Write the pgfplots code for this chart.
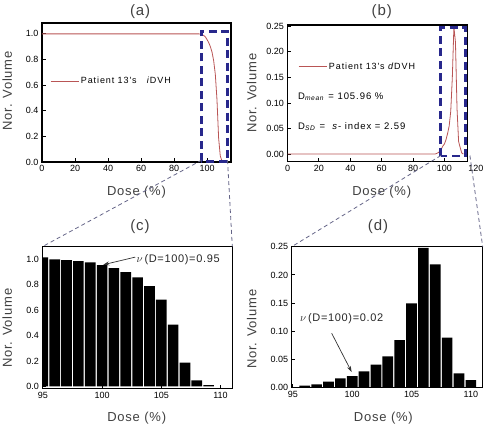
\documentclass[border=0pt]{standalone}
\usepackage{pgfplots}
\pgfplotsset{compat=1.18}
\usepackage{fontspec}
\setmainfont{Liberation Sans}
\newfontfamily\lsfont[LetterSpace=6]{Liberation Sans}
\newfontfamily\lsfontb[LetterSpace=10]{Liberation Sans}
\usetikzlibrary{arrows.meta}
\definecolor{curvered}{RGB}{185,85,85}
\definecolor{boxblue}{RGB}{40,40,140}
\definecolor{conngray}{RGB}{100,100,135}

\pgfplotsset{
  panel/.style={
    scale only axis, anchor=south west,
    tick align=inside, tick pos=left,
    major tick length=3.5pt,
    axis line style={line width=1.1pt},
    every tick/.style={black, line width=0.9pt},
    tick label style={font=\fontsize{9}{10}\selectfont},
    /pgf/number format/assume math mode=true,
    every axis title shift=0pt,
    label style={font=\lsfont\fontsize{13}{14}\selectfont, color=black!75},
    title style={font=\lsfont\fontsize{15}{16}\selectfont, color=black!75},
    xlabel={Dose (\%)}, ylabel={Nor. Volume},
    legend image code/.code={\draw[curvered, line width=0.8pt] (0pt,0pt) -- (28pt,0pt);},
  },
}

\begin{document}
\begin{tikzpicture}
\path[use as bounding box] (0pt,0pt) rectangle (495pt,429pt);

% ---------------- (a) ----------------
\begin{axis}[panel, at={(42pt,267pt)}, width=189pt, height=139pt,
  xmin=0, xmax=114.5, ymin=0, ymax=1.085,
  xtick={0,20,40,60,80,100}, ytick={0,0.2,0.4,0.6,0.8,1.0},
  yticklabel style={/pgf/number format/.cd, fixed, fixed zerofill, precision=1},
  clip=false,
  title={(a)}, title style={at={(axis description cs:0.519,1.079)}, anchor=center},
  xlabel style={at={(axis description cs:0.5,-0.216)}, anchor=center},
  ylabel style={at={(axis description cs:-0.184,0.512)}, anchor=center},
  legend style={at={(axis description cs:0.042,0.583)}, anchor=west, draw=none, fill=none,
    inner sep=0pt, font=\lsfontb\fontsize{9}{10}\selectfont},
]
\addplot[curvered, line width=0.8pt] coordinates {
 (0,1.0) (95,1.0) (96,0.999) (97,0.995) (98,0.987) (99,0.976) (100,0.955)
 (101,0.932) (102,0.9) (103,0.858) (104,0.79) (105,0.684) (106,0.487)
 (107,0.187) (108,0.047) (109,0.01) (110,0)};
\addlegendentry{Patient 13's\ \ \ \textit{i}DVH}
\draw[boxblue, line width=2.5pt, dash pattern=on 8pt off 4.5pt]
  (axis cs:96.6,0.005) rectangle (axis cs:112.5,1.02);
\coordinate (abl) at (axis cs:96.8,0.015);
\coordinate (abr) at (axis cs:112.4,0.015);
\end{axis}

% ---------------- (b) ----------------
\begin{axis}[panel, at={(287.5pt,267.3pt)}, width=180.2pt, height=136.7pt,
  xmin=0, xmax=114.8, ymin=-0.014, ymax=0.252,
  xtick={0,20,40,60,80,100}, ytick={0,0.05,0.1,0.15,0.2,0.25},
  yticklabel style={/pgf/number format/.cd, fixed, fixed zerofill, precision=2},
  clip=false,
  title={(b)}, title style={at={(axis description cs:0.523,1.095)}, anchor=center},
  xlabel style={at={(axis description cs:0.523,-0.219)}, anchor=center},
  ylabel style={at={(axis description cs:-0.199,0.5)}, anchor=center},
  legend style={at={(axis description cs:0.058,0.695)}, anchor=west, draw=none, fill=none,
    inner sep=0pt, font=\lsfontb\fontsize{9}{10}\selectfont},
]
\addplot[curvered, line width=0.8pt] coordinates {
 (0,0.001) (94,0.001) (95,0.002) (96,0.0035) (97,0.006) (98,0.0106) (99,0.0165)
 (100,0.0207) (101,0.029) (102,0.041) (103,0.0556) (104,0.0845) (105,0.1495)
 (106,0.248) (107,0.2187) (108,0.089) (109,0.0254) (110,0.0136) (111,0.003) (112,0.001)};
\addlegendentry{Patient 13's\ \textit{d}DVH}
\draw[boxblue, line width=2.5pt, dash pattern=on 8pt off 4.5pt]
  (axis cs:97.5,-0.003) rectangle (axis cs:113.3,0.247);
\coordinate (bbl) at (axis cs:97.7,-0.002);
\coordinate (bbr) at (axis cs:116.2,-0.002);
\node[font=\lsfontb\fontsize{9.5}{10}\selectfont, anchor=west, inner sep=0pt] at (axis description cs:0.058,0.475)
  {D\textsubscript{\textit{mean}} = 105.96 \%};
\node[font=\lsfontb\fontsize{9.5}{10}\selectfont, anchor=west, inner sep=0pt] at (axis description cs:0.058,0.256)
  {D\textsubscript{\textit{SD}} = \ \textit{s}- index = 2.59};
\node[font=\fontsize{9}{10}\selectfont, anchor=north] at (axis cs:120,-0.014) {120};
\end{axis}

% ---------------- (c) ----------------
\begin{axis}[panel, at={(42.3pt,40.7pt)}, width=190pt, height=141.6pt,
  xmin=94.95, xmax=111, ymin=-0.015, ymax=1.1,
  xtick={95,100,105,110}, ytick={0,0.2,0.4,0.6,0.8,1.0},
  yticklabel style={/pgf/number format/.cd, fixed, fixed zerofill, precision=1},
  title={(c)}, title style={at={(axis description cs:0.514,1.141)}, anchor=center},
  xlabel style={at={(axis description cs:0.497,-0.212)}, anchor=center},
  ylabel style={at={(axis description cs:-0.184,0.424)}, anchor=center},
]
\addplot[ybar, bar width=0.9, fill=black, draw=none] coordinates {
 (95,1.016) (96,1.0) (97,0.995) (98,0.987) (99,0.976) (100,0.955) (101,0.932)
 (102,0.9) (103,0.858) (104,0.79) (105,0.684) (106,0.487) (107,0.187)
 (108,0.047) (109,0.01)};
\draw[-{Stealth[length=6pt,width=4pt]}, black!80, line width=0.7pt]
  (axis cs:102.8,1.018) -- (axis cs:100.1,0.958);
\node[font=\lsfont\fontsize{11}{12}\selectfont, anchor=west, inner sep=0pt, color=black!85]
  at (axis cs:102.9,0.995) {$\nu$\,(D=100)=0.95};
\coordinate (ctl) at (rel axis cs:0,1);
\coordinate (ctr) at (rel axis cs:1,1);
\end{axis}

% ---------------- (d) ----------------
\begin{axis}[panel, at={(291.7pt,41.3pt)}, width=191pt, height=141pt,
  xmin=94.9, xmax=111, ymin=0, ymax=0.25,
  xtick={95,100,105,110}, ytick={0,0.05,0.1,0.15,0.2,0.25},
  yticklabel style={/pgf/number format/.cd, fixed, fixed zerofill, precision=2},
  title={(d)}, title style={at={(axis description cs:0.452,1.142)}, anchor=center},
  xlabel style={at={(axis description cs:0.48,-0.217)}, anchor=center},
  ylabel style={at={(axis description cs:-0.209,0.415)}, anchor=center},
]
\addplot[ybar, bar width=0.9, fill=black, draw=none] coordinates {
 (96,0.0035) (97,0.006) (98,0.0106) (99,0.0165) (100,0.0207) (101,0.029)
 (102,0.041) (103,0.0556) (104,0.0845) (105,0.1495) (106,0.248) (107,0.2187)
 (108,0.089) (109,0.0254) (110,0.0136)};
\draw[-{Stealth[length=6pt,width=4pt]}, black!80, line width=0.7pt]
  (axis cs:98.27,0.0965) -- (axis cs:99.95,0.028);
\node[font=\lsfont\fontsize{11}{12}\selectfont, anchor=west, inner sep=0pt, color=black!85]
  at (axis cs:95.6,0.123) {$\nu$\,(D=100)=0.02};
\coordinate (dtl) at (rel axis cs:0,1);
\coordinate (dtr) at (rel axis cs:1,1);
\end{axis}

% connectors
\draw[conngray, line width=0.8pt, dash pattern=on 4pt off 3pt] (abl) -- (ctl);
\draw[conngray, line width=0.8pt, dash pattern=on 4pt off 3pt] (abr) -- (ctr);
\draw[conngray, line width=0.8pt, dash pattern=on 4pt off 3pt] (bbl) -- (dtl);
\draw[conngray, line width=0.8pt, dash pattern=on 4pt off 3pt] (bbr) -- (dtr);
\end{tikzpicture}
\end{document}
